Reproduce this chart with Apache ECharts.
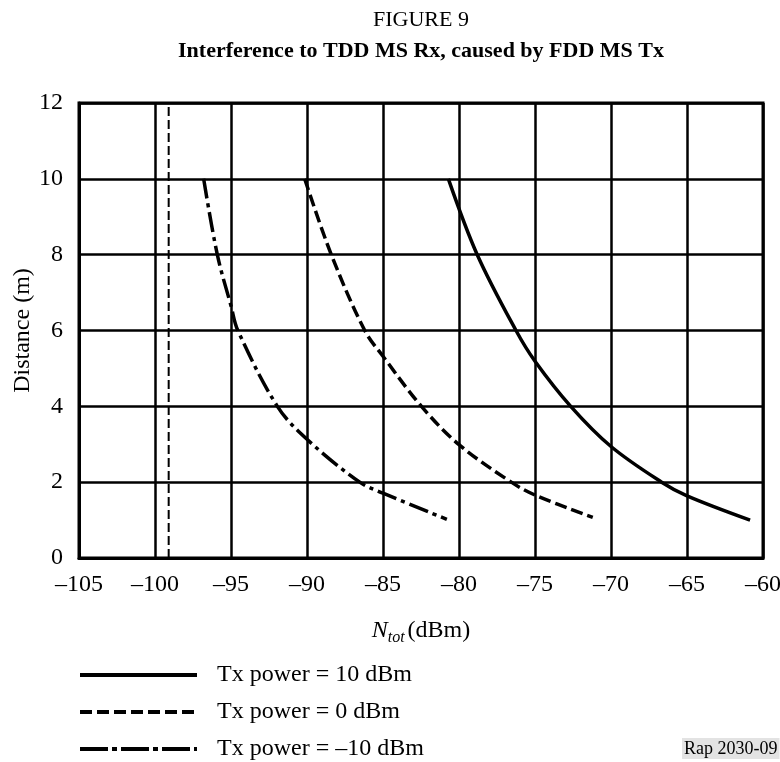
<!DOCTYPE html>
<html>
<head>
<meta charset="utf-8">
<script src="https://cdn.jsdelivr.net/npm/echarts@6/dist/echarts.min.js"></script>
<style>
    html, body { margin: 0; padding: 0; background: #fff; }
    #chart { width: 780px; height: 762px; }
</style>
</head>
<body>
<div id="chart"></div>
<script>
    // values: N_tot (dBm) -> distance (m)
    var xTicks = [-105, -100, -95, -90, -85, -80, -75, -70, -65, -60];
    var yTicks = [0, 2, 4, 6, 8, 10, 12];

    var seriesNames = ['Tx power = 10 dBm', 'Tx power = 0 dBm', 'Tx power = \u201310 dBm'];

    var tx10 = [
        [-80.7, 10], [-78.8, 8], [-76.25, 6], [-75, 5.19], [-72.65, 4],
        [-70, 2.94], [-66.67, 2], [-65, 1.64], [-60.85, 1.0]
    ];
    var tx0 = [
        [-90.15, 10], [-88.4, 8], [-86.2, 6], [-85, 5.32], [-82.47, 4],
        [-80, 2.99], [-76.56, 2], [-75, 1.66], [-71.2, 1.07]
    ];
    var txm10 = [
        [-96.8, 10], [-95.9, 8], [-95, 6.65], [-94.55, 6], [-91.95, 4],
        [-90, 3.13], [-86.53, 2], [-85, 1.71], [-80.8, 1.02]
    ];
    // thin dashed reference line
    var floorLine = [[-99.1, 0], [-99.1, 12]];

    var font = '"Liberation Serif", "Times New Roman", serif';
    var dashed = [12, 5];
    var dashDot = [20, 5, 4, 5];

    function dash(v) {
        return String(v).replace('-', '\u2013');
    }

    var chart = echarts.init(document.getElementById('chart'));

    chart.setOption({
        animation: false,
        backgroundColor: '#fff',
        textStyle: { fontFamily: font, color: '#000' },
        grid: {
            left: 79,
            right: 17,
            top: 103,
            bottom: 204,
            outerBoundsMode: 'none',
            containLabel: false,
            show: true,
            borderColor: '#000',
            borderWidth: 3
        },
        xAxis: {
            type: 'value',
            min: xTicks[0],
            max: xTicks[xTicks.length - 1],
            interval: 5,
            name: '{i|N}{s|tot} {n|(dBm)}',
            nameLocation: 'middle',
            nameGap: 58,
            nameTextStyle: {
                rich: {
                    i: { fontFamily: font, fontStyle: 'italic', fontSize: 24, color: '#000' },
                    s: { fontFamily: font, fontStyle: 'italic', fontSize: 16, color: '#000', padding: [14, 0, 0, 0] },
                    n: { fontFamily: font, fontSize: 24, color: '#000' }
                }
            },
            axisLine: { show: true, lineStyle: { color: '#000', width: 3 } },
            axisTick: { show: false },
            axisLabel: {
                fontFamily: font, fontSize: 24, color: '#000', margin: 15,
                formatter: function (v) { return dash(v); }
            },
            splitLine: { show: true, lineStyle: { color: '#000', width: 2.5 } }
        },
        yAxis: {
            type: 'value',
            min: yTicks[0],
            max: yTicks[yTicks.length - 1],
            interval: 2,
            name: 'Distance (m)',
            nameLocation: 'middle',
            nameGap: 44,
            nameMoveOverlap: false,
            nameTextStyle: { fontFamily: font, fontSize: 24, color: '#000' },
            axisLine: { show: true, lineStyle: { color: '#000', width: 3 } },
            axisTick: { show: false },
            axisLabel: { fontFamily: font, fontSize: 24, color: '#000', margin: 16 },
            splitLine: { show: true, lineStyle: { color: '#000', width: 2.5 } }
        },
        legend: {
            orient: 'vertical',
            left: 78,
            top: 663,
            height: 110,
            padding: 0,
            itemWidth: 117,
            itemHeight: 14,
            itemGap: 13,
            itemStyle: { opacity: 0 },
            data: [
                { name: seriesNames[0], lineStyle: { width: 4, type: 'solid' } },
                { name: seriesNames[1], lineStyle: { width: 4, type: [12, 5] } },
                { name: seriesNames[2], lineStyle: { width: 4, type: [28, 4, 5, 4] } }
            ],
            textStyle: { fontFamily: font, fontSize: 24, lineHeight: 22, color: '#000', padding: [0, 0, 0, 15] }
        },
        graphic: [{
            type: 'text',
            x: 421,
            y: 9,
            style: {
                text: 'FIGURE 9',
                fontFamily: font,
                fontSize: 22,
                fill: '#000',
                textAlign: 'center'
            }
        }, {
            type: 'text',
            x: 421,
            y: 40,
            style: {
                text: 'Interference to TDD MS Rx, caused by FDD MS Tx',
                fontFamily: font,
                fontWeight: 'bold',
                fontSize: 22,
                fill: '#000',
                textAlign: 'center'
            }
        }, {
            type: 'text',
            x: 682,
            y: 738,
            style: {
                text: 'Rap 2030-09',
                fontFamily: font,
                fontSize: 18,
                fill: '#000',
                backgroundColor: '#e3e3e3',
                padding: [2, 2, 1, 2]
            }
        }],
        series: [{
            name: seriesNames[0],
            type: 'line',
            smooth: 0.35,
            symbol: 'none',
            data: tx10,
            lineStyle: { color: '#000', width: 3.5, type: 'solid' },
            itemStyle: { color: '#000' }
        }, {
            name: seriesNames[1],
            type: 'line',
            smooth: 0.35,
            symbol: 'none',
            data: tx0,
            lineStyle: { color: '#000', width: 3.5, type: dashed },
            itemStyle: { color: '#000' }
        }, {
            name: seriesNames[2],
            type: 'line',
            smooth: 0.35,
            symbol: 'none',
            data: txm10,
            lineStyle: { color: '#000', width: 3.5, type: dashDot },
            itemStyle: { color: '#000' }
        }, {
            name: 'floor',
            type: 'line',
            symbol: 'none',
            data: floorLine,
            lineStyle: { color: '#000', width: 2, type: [9, 4] },
            z: 1
        }]
    });
</script>
</body>
</html>
